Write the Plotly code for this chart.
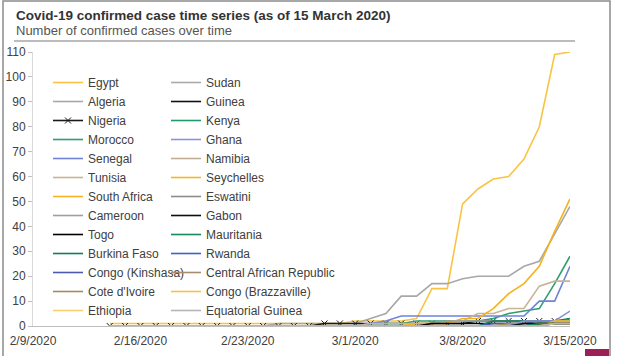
import plotly.graph_objects as go

dates = ["2020-02-14", "2020-02-15", "2020-02-16", "2020-02-17", "2020-02-18", "2020-02-19",
         "2020-02-20", "2020-02-21", "2020-02-22", "2020-02-23", "2020-02-24", "2020-02-25",
         "2020-02-26", "2020-02-27", "2020-02-28", "2020-02-29", "2020-03-01", "2020-03-02",
         "2020-03-03", "2020-03-04", "2020-03-05", "2020-03-06", "2020-03-07", "2020-03-08",
         "2020-03-09", "2020-03-10", "2020-03-11", "2020-03-12", "2020-03-13", "2020-03-14",
         "2020-03-15"]

egypt = [1, 1, 1, 1, 1, 1, 1, 1, 1, 1, 1, 1, 1, 1, 1, 1, 2, 2, 2, 2, 3, 15, 15, 49, 55, 59, 60, 67, 80, 109, 110]
algeria = [0, 0, 0, 0, 0, 0, 0, 0, 0, 0, 0, 1, 1, 1, 1, 1, 1, 3, 5, 12, 12, 17, 17, 19, 20, 20, 20, 24, 26, 37, 48]
nigeria = [0, 0, 0, 0, 0, 0, 0, 0, 0, 0, 0, 0, 0, 0, 1, 1, 1, 1, 1, 1, 1, 1, 1, 1, 2, 2, 2, 2, 2, 2, 2]
morocco = [0, 0, 0, 0, 0, 0, 0, 0, 0, 0, 0, 0, 0, 0, 0, 0, 0, 1, 1, 1, 2, 2, 2, 2, 2, 3, 5, 6, 7, 17, 28]
senegal = [0, 0, 0, 0, 0, 0, 0, 0, 0, 0, 0, 0, 0, 0, 0, 0, 0, 1, 2, 4, 4, 4, 4, 4, 4, 4, 4, 4, 10, 10, 24]
tunisia = [0, 0, 0, 0, 0, 0, 0, 0, 0, 0, 0, 0, 0, 0, 0, 0, 0, 1, 1, 1, 1, 1, 1, 2, 5, 5, 7, 7, 16, 18, 18]
south_africa = [0, 0, 0, 0, 0, 0, 0, 0, 0, 0, 0, 0, 0, 0, 0, 0, 0, 0, 0, 0, 1, 1, 1, 3, 3, 7, 13, 17, 24, 38, 51]
cameroon = [0, 0, 0, 0, 0, 0, 0, 0, 0, 0, 0, 0, 0, 0, 0, 0, 0, 0, 0, 0, 0, 1, 2, 2, 2, 2, 2, 2, 2, 2, 2]
togo = [0, 0, 0, 0, 0, 0, 0, 0, 0, 0, 0, 0, 0, 0, 0, 0, 0, 0, 0, 0, 0, 1, 1, 1, 1, 1, 1, 1, 1, 1, 1]
burkina_faso = [0, 0, 0, 0, 0, 0, 0, 0, 0, 0, 0, 0, 0, 0, 0, 0, 0, 0, 0, 0, 0, 0, 0, 0, 0, 2, 2, 2, 2, 2, 3]
congo_kinshasa = [0, 0, 0, 0, 0, 0, 0, 0, 0, 0, 0, 0, 0, 0, 0, 0, 0, 0, 0, 0, 0, 0, 0, 0, 0, 1, 1, 1, 2, 2, 2]
cote_divoire = [0, 0, 0, 0, 0, 0, 0, 0, 0, 0, 0, 0, 0, 0, 0, 0, 0, 0, 0, 0, 0, 0, 0, 0, 0, 0, 1, 1, 1, 1, 1]
ethiopia = [0, 0, 0, 0, 0, 0, 0, 0, 0, 0, 0, 0, 0, 0, 0, 0, 0, 0, 0, 0, 0, 0, 0, 0, 0, 0, 0, 0, 1, 1, 1]
sudan = [0, 0, 0, 0, 0, 0, 0, 0, 0, 0, 0, 0, 0, 0, 0, 0, 0, 0, 0, 0, 0, 0, 0, 0, 0, 0, 0, 0, 1, 1, 1]
guinea = [0, 0, 0, 0, 0, 0, 0, 0, 0, 0, 0, 0, 0, 0, 0, 0, 0, 0, 0, 0, 0, 0, 0, 0, 0, 0, 0, 0, 1, 1, 1]
kenya = [0, 0, 0, 0, 0, 0, 0, 0, 0, 0, 0, 0, 0, 0, 0, 0, 0, 0, 0, 0, 0, 0, 0, 0, 0, 0, 0, 0, 1, 1, 3]
ghana = [0, 0, 0, 0, 0, 0, 0, 0, 0, 0, 0, 0, 0, 0, 0, 0, 0, 0, 0, 0, 0, 0, 0, 0, 0, 0, 0, 2, 2, 2, 6]
namibia = [0, 0, 0, 0, 0, 0, 0, 0, 0, 0, 0, 0, 0, 0, 0, 0, 0, 0, 0, 0, 0, 0, 0, 0, 0, 0, 0, 0, 0, 2, 2]
seychelles = [0, 0, 0, 0, 0, 0, 0, 0, 0, 0, 0, 0, 0, 0, 0, 0, 0, 0, 0, 0, 0, 0, 0, 0, 0, 0, 0, 0, 0, 2, 2]
eswatini = [0, 0, 0, 0, 0, 0, 0, 0, 0, 0, 0, 0, 0, 0, 0, 0, 0, 0, 0, 0, 0, 0, 0, 0, 0, 0, 0, 0, 0, 1, 1]
gabon = [0, 0, 0, 0, 0, 0, 0, 0, 0, 0, 0, 0, 0, 0, 0, 0, 0, 0, 0, 0, 0, 0, 0, 0, 0, 0, 0, 1, 1, 1, 1]
mauritania = [0, 0, 0, 0, 0, 0, 0, 0, 0, 0, 0, 0, 0, 0, 0, 0, 0, 0, 0, 0, 0, 0, 0, 0, 0, 0, 0, 0, 1, 1, 1]
rwanda = [0, 0, 0, 0, 0, 0, 0, 0, 0, 0, 0, 0, 0, 0, 0, 0, 0, 0, 0, 0, 0, 0, 0, 0, 0, 0, 0, 0, 0, 1, 1]
car = [0, 0, 0, 0, 0, 0, 0, 0, 0, 0, 0, 0, 0, 0, 0, 0, 0, 0, 0, 0, 0, 0, 0, 0, 0, 0, 0, 0, 0, 1, 1]
congo_brazzaville = [0, 0, 0, 0, 0, 0, 0, 0, 0, 0, 0, 0, 0, 0, 0, 0, 0, 0, 0, 0, 0, 0, 0, 0, 0, 0, 0, 0, 0, 1, 1]
equatorial_guinea = [0, 0, 0, 0, 0, 0, 0, 0, 0, 0, 0, 0, 0, 0, 0, 0, 0, 0, 0, 0, 0, 0, 0, 0, 0, 0, 0, 0, 0, 1, 1]

col1 = [
    ("Egypt", egypt, "#F9C443"),
    ("Algeria", algeria, "#A8A8A8"),
    ("Nigeria", nigeria, "#1A1A1A"),
    ("Morocco", morocco, "#2E9E72"),
    ("Senegal", senegal, "#6F84D6"),
    ("Tunisia", tunisia, "#C9B393"),
    ("South Africa", south_africa, "#F5B21C"),
    ("Cameroon", cameroon, "#9E9E9E"),
    ("Togo", togo, "#000000"),
    ("Burkina Faso", burkina_faso, "#0E7F52"),
    ("Congo (Kinshasa)", congo_kinshasa, "#4A5BB0"),
    ("Cote d'Ivoire", cote_divoire, "#A98B5E"),
    ("Ethiopia", ethiopia, "#FAD06E"),
]
col2 = [
    ("Sudan", sudan, "#ABABAB"),
    ("Guinea", guinea, "#111111"),
    ("Kenya", kenya, "#1F9A6A"),
    ("Ghana", ghana, "#8A94DC"),
    ("Namibia", namibia, "#BFAE94"),
    ("Seychelles", seychelles, "#F6B620"),
    ("Eswatini", eswatini, "#8C8C8C"),
    ("Gabon", gabon, "#0D0D0D"),
    ("Mauritania", mauritania, "#15895A"),
    ("Rwanda", rwanda, "#3F60CC"),
    ("Central African Republic", car, "#A88E6E"),
    ("Congo (Brazzaville)", congo_brazzaville, "#F8C240"),
    ("Equatorial Guinea", equatorial_guinea, "#B5B5B5"),
]

fig = go.Figure()
for legend_id, group in (("legend", col1), ("legend2", col2)):
    for name, vals, color in group:
        kw = dict(mode="lines")
        if name == "Nigeria":
            kw = dict(mode="lines+markers",
                      marker=dict(symbol="x-thin", size=6, color=color,
                                  line=dict(width=1, color=color)))
        fig.add_trace(go.Scatter(x=dates, y=vals, name=name, legend=legend_id,
                                 line=dict(color=color, width=1.6), **kw))

legend_common = dict(font=dict(family="Liberation Sans, Arial, sans-serif", size=12, color="#404040"),
                     bgcolor="rgba(0,0,0,0)", itemwidth=30, tracegroupgap=0,
                     xanchor="left", yanchor="top", traceorder="normal")

PL, PR, PT, PB = 33, 570, 52, 326
def px_x(p):
    return (p - PL) / (PR - PL)
def px_y(p):
    return (PB - p) / (PB - PT)

fig.update_layout(
    width=617, height=356,
    margin=dict(l=PL, r=617 - PR, t=PT, b=356 - PB),
    paper_bgcolor="white", plot_bgcolor="white",
    font=dict(family="Liberation Sans, Arial, sans-serif", color="#595959", size=12),
    title=dict(text="<b>Covid-19 confirmed case time series (as of 15 March 2020)</b>",
               xref="container", x=16 / 617, xanchor="left",
               yref="container", y=1 - 15 / 356, yanchor="middle",
               font=dict(size=13.5, color="#333333")),
    legend=dict(x=px_x(48), y=px_y(68), **legend_common),
    legend2=dict(x=px_x(166), y=px_y(68), **legend_common),
    showlegend=True,
    xaxis=dict(range=["2020-02-09", "2020-03-15"], tick0="2020-02-09", dtick=7 * 86400000,
               tickformat="%-m/%-d/%Y", showgrid=False, zeroline=False, automargin=False,
               showline=True, linecolor="#BFBFBF", linewidth=1,
               ticks="", ticklabelstandoff=4, tickfont=dict(size=12, color="#404040")),
    yaxis=dict(range=[0, 110], dtick=10, showgrid=False, zeroline=False, automargin=False,
               showline=True, linecolor="#D9D9D9", linewidth=1,
               ticks="outside", ticklen=4, tickcolor="#BFBFBF",
               tickfont=dict(size=12, color="#404040")),
    annotations=[
        dict(text="Number of confirmed cases over time", xref="paper", yref="paper",
             x=px_x(14), y=px_y(31), xanchor="left", yanchor="middle",
             showarrow=False, font=dict(size=13, color="#555555")),
    ],
    shapes=[
        dict(type="line", xref="paper", yref="paper",
             x0=px_x(14), x1=px_x(575), y0=px_y(41), y1=px_y(41),
             line=dict(color="#A6A6A6", width=1.5)),
        dict(type="rect", xref="paper", yref="paper",
             x0=px_x(3), x1=px_x(610), y0=px_y(365), y1=px_y(1),
             line=dict(color="#8C8C8C", width=1.5), fillcolor="rgba(0,0,0,0)", layer="below"),
        dict(type="rect", xref="paper", yref="paper",
             x0=px_x(585), x1=px_x(609), y0=px_y(360), y1=px_y(349),
             line=dict(width=0), fillcolor="#9C1F55"),
    ],
)

fig.write_html("out.html", config={"displayModeBar": False},
               post_script="document.body.style.margin='0';document.body.style.padding='0';")
